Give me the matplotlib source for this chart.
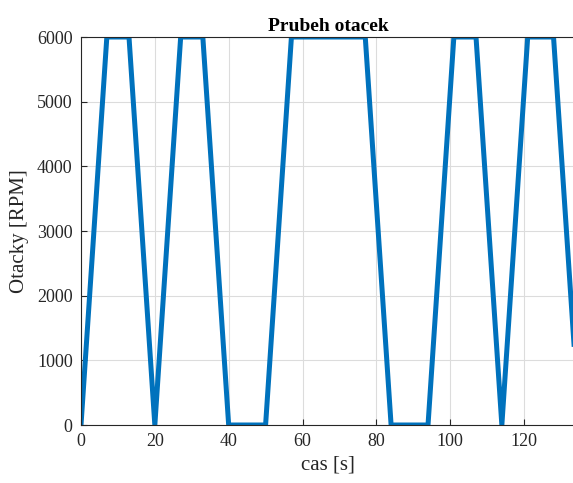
import matplotlib.pyplot as plt

# casove body a otacky
cas = [0, 7, 13, 20, 27, 33, 40, 50, 57, 77, 84, 94, 101, 107, 114, 121, 128, 135]
otacky = [0, 6000, 6000, 0, 6000, 6000, 0, 0, 6000, 6000, 0, 0, 6000, 6000, 0, 6000, 6000, 0]

x_ticks = [0, 20, 40, 60, 80, 100, 120]
y_ticks = [0, 1000, 2000, 3000, 4000, 5000, 6000]

plt.rcParams['font.family'] = ['Liberation Serif', 'DejaVu Serif']

W, H = 573, 483
fig = plt.figure(figsize=(W / 100, H / 100), dpi=100)
x_max = 134
px_per_unit = (524 - 81) / 120
ax = fig.add_axes([81 / W, (H - 425) / H, x_max * px_per_unit / W, (425 - 37) / H])

ax.plot(cas, otacky, color='#0072BD', linewidth=3.6, solid_joinstyle='miter')

ax.set_xlim(0, x_max)
ax.set_ylim(0, 6000)
ax.set_xticks(x_ticks)
ax.set_yticks(y_ticks)
ax.grid(True, color='#dcdcdc', linewidth=0.8)
ax.set_axisbelow(True)
ax.tick_params(direction='in', length=4, labelsize=13, colors='#262626', pad=6)
for s in ax.spines.values():
    s.set_color('#262626')
    s.set_linewidth(0.8)
ax.spines['right'].set_visible(False)

ax.set_title('Prubeh otacek', fontsize=14, fontweight='bold', pad=4)
ax.set_xlabel('cas [s]', fontsize=15, color='#262626', labelpad=4)
ax.set_ylabel('Otacky [RPM]', fontsize=15, color='#262626', labelpad=6)

fig.savefig('out.png', dpi=100)
